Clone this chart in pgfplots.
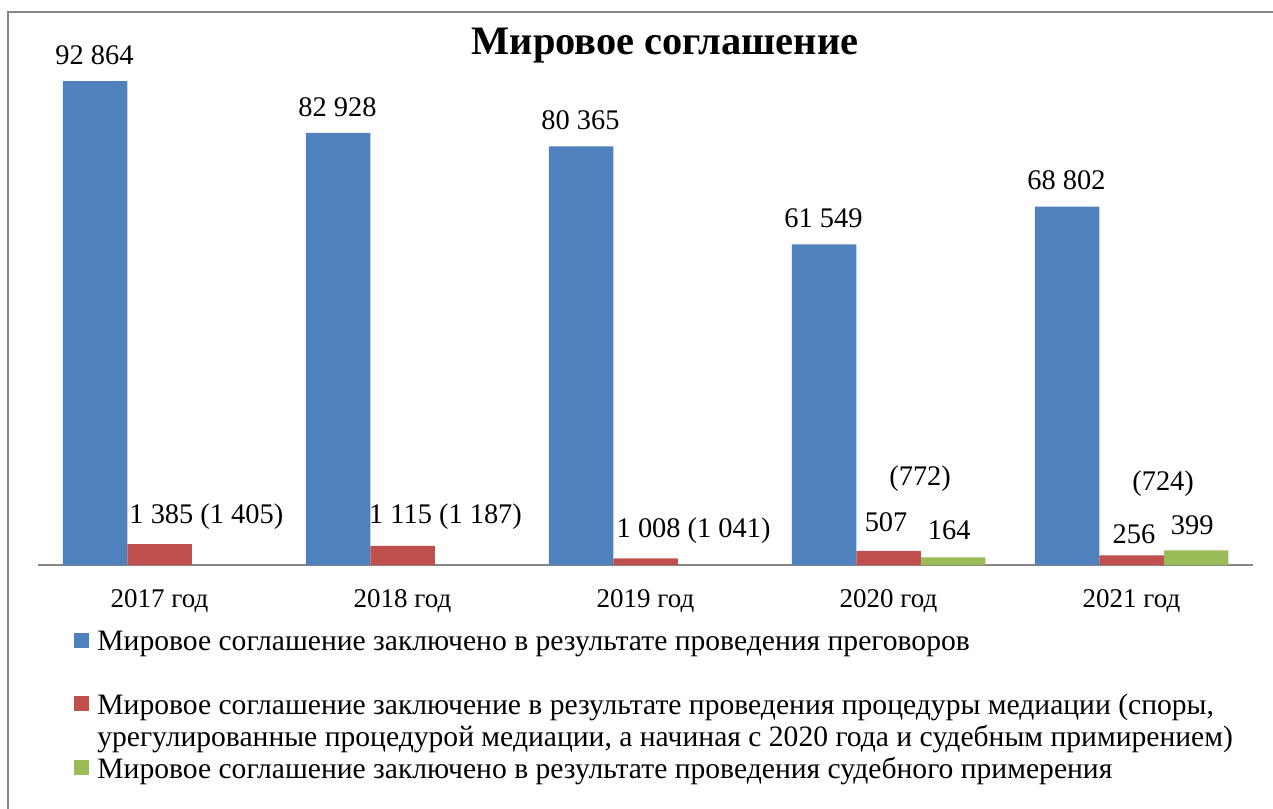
\documentclass[border=0pt]{standalone}
\usepackage{fontspec}
\setmainfont{Liberation Serif}
\usepackage{pgfplots}
\pgfplotsset{compat=1.18}
\definecolor{cblue}{RGB}{79,129,189}
\definecolor{cred}{RGB}{192,80,77}
\definecolor{cgreen}{RGB}{155,187,89}
\definecolor{cgrid}{RGB}{134,134,134}
\pgfplotsset{
  oneline/.style={legend image code/.code={\fill[##1] (0pt,-2.75pt) rectangle (7.5pt,4.75pt);}},
  twoline/.style={legend image code/.code={\fill[##1] (0pt,5.35pt) rectangle (7.5pt,12.85pt);}},
}
\newcommand{\lbl}{\fontsize{13.5}{16}\selectfont}
\newcommand{\vlbl}{\fontsize{14.2}{16}\selectfont}
\begin{document}
\begin{tikzpicture}
\useasboundingbox (0,0) rectangle (636.5pt,-404pt);
\clip (0,0) rectangle (636.5pt,-404pt);
\draw[cgrid, line width=1pt] (4pt,-6pt) rectangle (700pt,-500pt);
\node[font=\fontsize{20.2}{24}\selectfont\bfseries] at (332.5pt,-23pt) {Мировое соглашение};
\begin{axis}[
  at={(19pt,-282.5pt)}, anchor=south west,
  scale only axis, width=607.5pt, height=260.5pt,
  xmin=-0.5, xmax=4.5, ymin=0, ymax=100000,
  axis x line*=bottom, axis y line=none,
  x axis line style={draw=cgrid, line width=0.8pt},
  xtick={0,1,2,3,4}, major tick length=0pt,
  xticklabels={2017 год,2018 год,2019 год,2020 год,2021 год},
  xticklabel style={font=\lbl, anchor=base, yshift=-21pt},
  ytick=\empty,
  ybar=0pt, bar width=32.25pt,
  clip=false,
  legend style={at={(0.0296,-0.118)}, anchor=north west, draw=none, fill=none,
    font=\fontsize{14.8}{16.2}\selectfont, inner sep=0pt, column sep=2pt,
    cells={anchor=west, align=left}, row sep=0pt},
]
\addplot[fill=cblue, draw=none, twoline]
  coordinates {(0,92864) (1,82928) (2,80365) (3,61549) (4,68802)};
\addlegendentry{Мировое соглашение заключено в результате проведения преговоров\\ \strut}
\addplot[fill=cred, draw=none, twoline]
  coordinates {(0,4030) (1,3650) (2,1290) (3,2690) (4,1860)};
\addlegendentry{Мировое соглашение заключение в результате проведения процедуры медиации (споры,\\урегулированные процедурой медиации, а начиная с 2020 года и судебным примирением)}
\addplot[fill=cgreen, draw=none, oneline] coordinates {(3,1480) (4,2820)};
\addlegendentry{Мировое соглашение заключено в результате проведения судебного примерения}
% value labels
\node[font=\vlbl] at (axis cs:-0.2675,97864) {92 864};
\node[font=\vlbl] at (axis cs:0.7325,87928) {82 928};
\node[font=\vlbl] at (axis cs:1.7325,85365) {80 365};
\node[font=\vlbl] at (axis cs:2.7325,66549) {61 549};
\node[font=\vlbl] at (axis cs:3.7325,73802) {68 802};
\node[font=\vlbl] at (axis cs:0.193,9210) {1 385 (1 405)};
\node[font=\vlbl] at (axis cs:1.177,9210) {1 115 (1 187)};
\node[font=\vlbl] at (axis cs:2.198,6524) {1 008 (1 041)};
\node[font=\vlbl] at (axis cs:2.99,8200) {507};
\node[font=\vlbl] at (axis cs:3.13,16500) {(772)};
\node[font=\vlbl] at (axis cs:3.25,6700) {164};
\node[font=\vlbl] at (axis cs:4.01,5900) {256};
\node[font=\vlbl] at (axis cs:4.13,15600) {(724)};
\node[font=\vlbl] at (axis cs:4.25,7700) {399};
\end{axis}
\end{tikzpicture}
\end{document}
